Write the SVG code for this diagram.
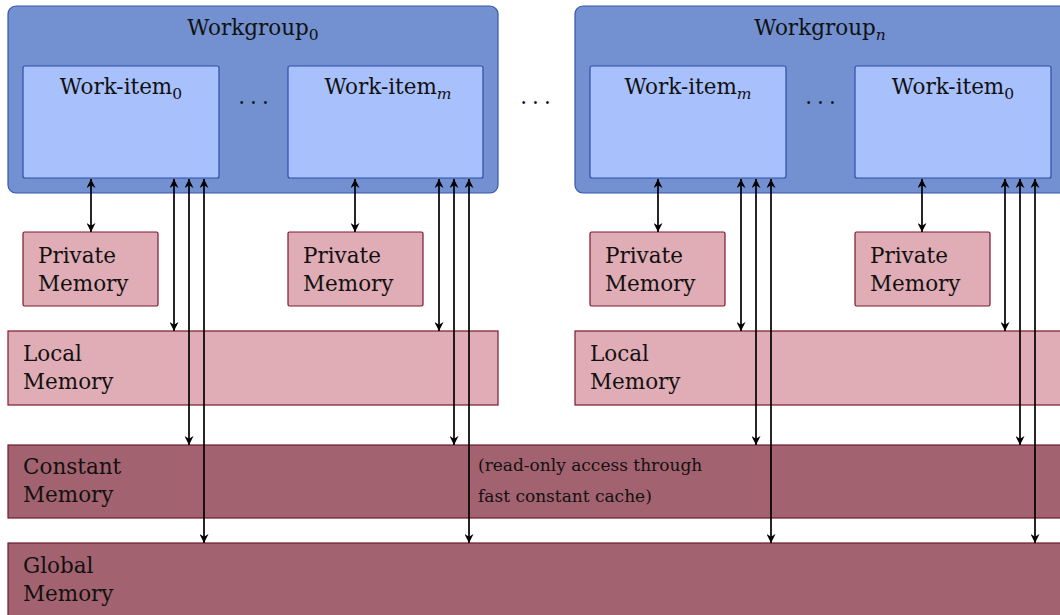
<svg xmlns="http://www.w3.org/2000/svg" width="1060" height="615" viewBox="0 0 1060 615">
<defs>
<marker id="ah" viewBox="0 0 10 10" refX="10" refY="5" markerWidth="9" markerHeight="9" markerUnits="userSpaceOnUse" orient="auto-start-reverse">
<path d="M0,0 L10,5 L0,10 L3,5 Z" fill="#000"/>
</marker>
</defs>
<style>
.wg{fill:#7390d0;stroke:#3556ad;stroke-width:1.2}
.wi{fill:#a8c0fc;stroke:#2f4fa8;stroke-width:1.2}
.pm{fill:#e0acb5;stroke:#7a1a30;stroke-width:1.2}
.cm{fill:#a3626f;stroke:#6e1a30;stroke-width:1.2}
text{font-family:"DejaVu Serif","Liberation Serif",serif;font-size:21.5px;fill:#111}
.c{text-anchor:middle}
.note{font-size:17px}
.sub{font-size:15.5px}
.dots{letter-spacing:5px}
.conn line{stroke:#000;stroke-width:1.7;marker-start:url(#ah);marker-end:url(#ah)}
</style>
<g id="global-memory">
<rect class="cm" x="8" y="543" width="1070" height="90"/>
<text x="23" y="573">Global</text>
<text x="23" y="601">Memory</text>
</g>
<g id="constant-memory">
<rect class="cm" x="8" y="445" width="1070" height="73"/>
<text x="23" y="474">Constant</text>
<text x="23" y="502">Memory</text>
<text class="note" x="478" y="471">(read-only access through</text>
<text class="note" x="478" y="502">fast constant cache)</text>
</g>
<g id="local-memory-0">
<rect class="pm" x="8" y="331" width="490" height="74"/>
<text x="23" y="361">Local</text>
<text x="23" y="389">Memory</text>
</g>
<g id="local-memory-n">
<rect class="pm" x="575" y="331" width="500" height="74"/>
<text x="590" y="361">Local</text>
<text x="590" y="389">Memory</text>
</g>
<g id="private-0-0">
<rect class="pm" x="23" y="232" width="135" height="74" rx="1.5"/>
<text x="38" y="263">Private</text>
<text x="38" y="291">Memory</text>
</g>
<g id="private-0-m">
<rect class="pm" x="288" y="232" width="135" height="74" rx="1.5"/>
<text x="303" y="263">Private</text>
<text x="303" y="291">Memory</text>
</g>
<g id="private-n-m">
<rect class="pm" x="590" y="232" width="135" height="74" rx="1.5"/>
<text x="605" y="263">Private</text>
<text x="605" y="291">Memory</text>
</g>
<g id="private-n-0">
<rect class="pm" x="855" y="232" width="135" height="74" rx="1.5"/>
<text x="870" y="263">Private</text>
<text x="870" y="291">Memory</text>
</g>
<g id="workgroup-0">
<rect class="wg" x="8" y="6" width="490" height="187" rx="8"/>
<text class="c" x="253" y="35">Workgroup<tspan class="sub" dy="5">0</tspan></text>
<text class="c dots" x="256" y="104">...</text>
</g>
<g id="workitem-0-0">
<rect class="wi" x="23" y="66" width="196" height="112" rx="2"/>
<text class="c" x="121" y="94">Work-item<tspan class="sub" dy="5">0</tspan></text>
</g>
<g id="workitem-0-m">
<rect class="wi" x="288" y="66" width="195" height="112" rx="2"/>
<text class="c" x="388" y="94">Work-item<tspan class="sub" dy="5" font-style="italic">m</tspan></text>
</g>
<g id="ellipsis-mid">
<text class="c dots" x="538" y="104">...</text>
</g>
<g id="workgroup-n">
<rect class="wg" x="575" y="6" width="500" height="187" rx="8"/>
<text class="c" x="820" y="35">Workgroup<tspan class="sub" dy="5" font-style="italic">n</tspan></text>
<text class="c dots" x="823" y="104">...</text>
</g>
<g id="workitem-n-m">
<rect class="wi" x="590" y="66" width="196" height="112" rx="2"/>
<text class="c" x="688" y="94">Work-item<tspan class="sub" dy="5" font-style="italic">m</tspan></text>
</g>
<g id="workitem-n-0">
<rect class="wi" x="855" y="66" width="196" height="112" rx="2"/>
<text class="c" x="953" y="94">Work-item<tspan class="sub" dy="5">0</tspan></text>
</g>
<g id="connectors" class="conn">
<line x1="91" y1="179" x2="91" y2="232"/>
<line x1="174" y1="179" x2="174" y2="331"/>
<line x1="189" y1="179" x2="189" y2="445"/>
<line x1="204" y1="179" x2="204" y2="543"/>
<line x1="355" y1="179" x2="355" y2="232"/>
<line x1="439" y1="179" x2="439" y2="331"/>
<line x1="454" y1="179" x2="454" y2="445"/>
<line x1="469" y1="179" x2="469" y2="543"/>
<line x1="658" y1="179" x2="658" y2="232"/>
<line x1="741" y1="179" x2="741" y2="331"/>
<line x1="756" y1="179" x2="756" y2="445"/>
<line x1="771" y1="179" x2="771" y2="543"/>
<line x1="922" y1="179" x2="922" y2="232"/>
<line x1="1005" y1="179" x2="1005" y2="331"/>
<line x1="1020" y1="179" x2="1020" y2="445"/>
<line x1="1035" y1="179" x2="1035" y2="543"/>
</g>
</svg>
